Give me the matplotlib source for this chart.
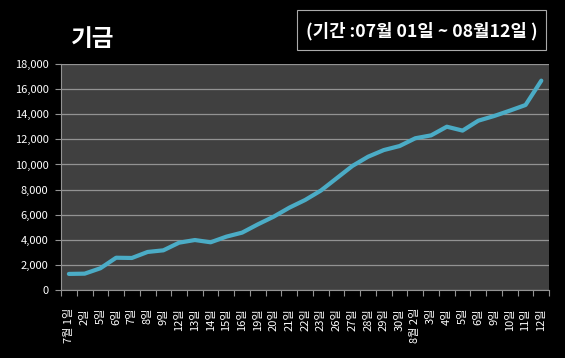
import numpy as np
import matplotlib.pyplot as plt
from matplotlib.patches import Rectangle
from matplotlib.ticker import FuncFormatter

plt.rcParams['font.family'] = ['Noto Sans CJK KR', 'DejaVu Sans']

labels = ['7월 1일', '2일', '5일', '6일', '7일', '8일', '9일', '12일', '13일', '14일',
          '15일', '16일', '19일', '20일', '21일', '22일', '23일', '26일', '27일', '28일',
          '29일', '30일', '8월 2일', '3일', '4일', '5일', '6일', '9일', '10일', '11일', '12일']
fund = [1280, 1300, 1730, 2570, 2550, 3030, 3160, 3770, 3980, 3800,
        4250, 4570, 5230, 5840, 6560, 7170, 7920, 8900, 9880, 10620,
        11150, 11470, 12090, 12320, 13010, 12700, 13490, 13860, 14290, 14740, 16680]

fig = plt.figure(figsize=(5.65, 3.58), dpi=100, facecolor='black')
ax = fig.add_axes([0.108, 0.19, 0.864, 0.631])
ax.set_facecolor('#404040')

x = np.arange(len(fund))
ax.plot(x, fund, color='#4BACC6', lw=3, solid_capstyle='round', solid_joinstyle='round')

ax.set_xlim(-0.5, len(fund) - 0.5)
ax.set_ylim(0, 18000)
ax.set_yticks(range(0, 18001, 2000))
ax.yaxis.set_major_formatter(FuncFormatter(lambda v, p: f'{int(v):,}'))
ax.grid(axis='y', color='#939393', lw=0.9)
ax.set_axisbelow(True)

ax.set_xticks(x)
ax.set_xticklabels(labels, rotation=90, va='top', ha='center')
ax.set_xticks(np.arange(-0.5, len(fund)), minor=True)
ax.tick_params(axis='x', which='major', length=0, pad=13, colors='white', labelsize=8)
ax.tick_params(axis='x', which='minor', length=4, color='#939393', width=0.8)
ax.tick_params(axis='y', length=4, color='#939393', width=0.8, colors='white', labelsize=8, pad=5)

for s in ['top', 'right']:
    ax.spines[s].set_visible(False)
ax.spines['left'].set_color('#939393')
ax.spines['bottom'].set_color('#939393')

# title and period box
fig.text(0.126, 0.89, '기금', color='white', fontsize=17, fontweight='bold', va='center', ha='left')
fig.patches.append(Rectangle((297 / 565, 1 - 50 / 358), 249 / 565, 40.5 / 358,
                             transform=fig.transFigure, facecolor='none',
                             edgecolor='#aaaaaa', lw=0.8))
fig.text(0.7464, 0.912, '(기간 :07월 01일 ~ 08월12일 )', color='white', fontsize=12.8,
         fontweight='bold', va='center', ha='center')

fig.savefig('out.png', dpi=100, facecolor='black')
